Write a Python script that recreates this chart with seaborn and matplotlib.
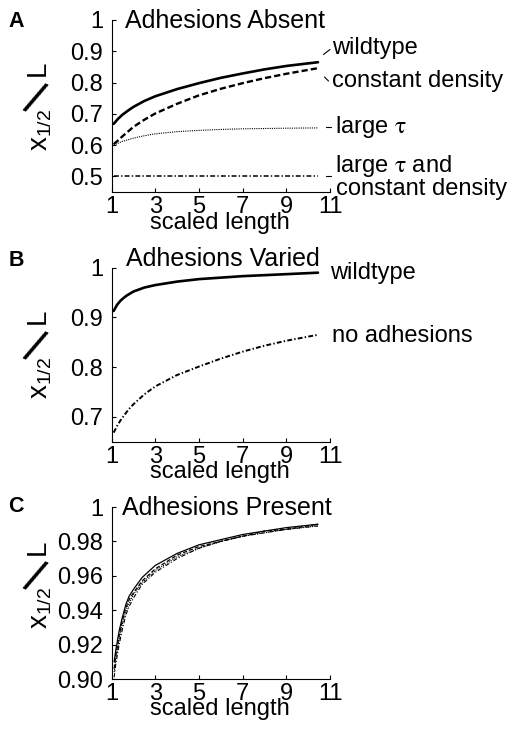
import matplotlib
matplotlib.use('Agg')
import matplotlib.pyplot as plt
import seaborn as sns
from matplotlib.lines import Line2D
from matplotlib.ticker import FixedLocator, FixedFormatter

# ---------------- data ----------------
x_ticks = [1, 3, 5, 7, 9, 11]
x_tick_labels = ['1', '3', '5', '7', '9', '11']

# Panel A: Adhesions Absent
x_a = [1.1, 1.3, 1.5, 1.75, 2, 2.5, 3, 4, 5, 6, 7, 8, 9, 10.45]
a_wildtype = [0.668, 0.684, 0.697, 0.710, 0.722, 0.741, 0.756, 0.779, 0.798, 0.815, 0.829, 0.842, 0.853, 0.865]
a_const_density = [0.603, 0.615, 0.628, 0.643, 0.658, 0.681, 0.701, 0.732, 0.759, 0.780, 0.798, 0.814, 0.828, 0.846]
a_large_tau = [0.600, 0.606, 0.612, 0.617, 0.622, 0.630, 0.636, 0.643, 0.647, 0.650, 0.652, 0.653, 0.654, 0.655]
a_large_tau_const = [0.500, 0.500, 0.500, 0.500, 0.500, 0.500, 0.500, 0.500, 0.500, 0.500, 0.500, 0.500, 0.500, 0.500]
a_yticks = [0.5, 0.6, 0.7, 0.8, 0.9, 1.0]
a_ytick_labels = ['0.5', '0.6', '0.7', '0.8', '0.9', '1']

# Panel B: Adhesions Varied
x_b = [1.1, 1.25, 1.4, 1.55, 1.7, 1.85, 2, 2.5, 3, 4, 5, 6, 7, 8, 9, 10.45]
b_wildtype = [0.913, 0.925, 0.933, 0.939, 0.944, 0.948, 0.952, 0.960, 0.965, 0.972, 0.977, 0.980, 0.983, 0.985, 0.987, 0.990]
b_no_adhesions = [0.668, 0.681, 0.692, 0.701, 0.710, 0.718, 0.725, 0.745, 0.761, 0.784, 0.801, 0.817, 0.831, 0.843, 0.853, 0.865]
b_yticks = [0.7, 0.8, 0.9, 1.0]
b_ytick_labels = ['0.7', '0.8', '0.9', '1']

# Panel C: Adhesions Present
x_c = [1.12, 1.2, 1.35, 1.5, 1.65, 1.8, 2, 2.4, 3, 4, 5, 6, 7, 8, 9, 10.45]
c_solid = [0.910, 0.917, 0.928, 0.936, 0.943, 0.948, 0.952, 0.959, 0.966, 0.973, 0.978, 0.981, 0.984, 0.986, 0.988, 0.990]
c_dashed = [0.906, 0.914, 0.925, 0.934, 0.941, 0.946, 0.950, 0.957, 0.964, 0.972, 0.977, 0.980, 0.983, 0.986, 0.987, 0.990]
c_dotted = [0.904, 0.912, 0.923, 0.932, 0.939, 0.944, 0.949, 0.956, 0.963, 0.971, 0.976, 0.980, 0.983, 0.985, 0.987, 0.989]
c_dashdot = [0.901, 0.909, 0.920, 0.929, 0.937, 0.942, 0.947, 0.955, 0.962, 0.970, 0.976, 0.980, 0.983, 0.985, 0.987, 0.989]
c_yticks = [0.90, 0.92, 0.94, 0.96, 0.98, 1.0]
c_ytick_labels = ['0.90', '0.92', '0.94', '0.96', '0.98', '1']

# ---------------- style ----------------
sns.set_theme(style='white')
plt.rcParams['font.family'] = ['Liberation Sans', 'DejaVu Sans']
plt.rcParams['mathtext.fontset'] = 'stix'
plt.rcParams['lines.scale_dashes'] = False

W, H = 519, 729
fig = plt.figure(figsize=(W / 100, H / 100), dpi=100)
fig.patch.set_facecolor('white')

FS = 17


def add_axes_px(left, right, top, bottom):
    return fig.add_axes([left / W, 1 - bottom / H, (right - left) / W, (bottom - top) / H])


def text_px(x, y, s, **kw):
    kw.setdefault('fontsize', FS)
    kw.setdefault('color', 'black')
    return fig.text(x / W, 1 - y / H, s, **kw)


def seg_px(x0, y0, x1, y1, lw=0.8):
    fig.add_artist(Line2D([x0 / W, x1 / W], [1 - y0 / H, 1 - y1 / H],
                          transform=fig.transFigure, color='black', lw=lw))


def style_axes(ax, ylim, yticks, ylabels, top, bottom, label_shift=0.0):
    ax.set_facecolor('white')
    ax.set_xlim(1, 11)
    ax.set_ylim(*ylim)
    ax.xaxis.set_major_locator(FixedLocator(x_ticks))
    ax.xaxis.set_major_formatter(FixedFormatter(x_tick_labels))
    ax.yaxis.set_major_locator(FixedLocator(yticks))
    ax.yaxis.set_major_formatter(FixedFormatter(ylabels))
    for s in ['top', 'right']:
        ax.spines[s].set_visible(False)
    for s in ['left', 'bottom']:
        ax.spines[s].set_linewidth(0.8)
        ax.spines[s].set_color('black')
    ax.tick_params(axis='both', direction='in', length=3, width=0.8, colors='black',
                   labelsize=FS, left=True, bottom=True)
    ax.tick_params(axis='x', pad=3)
    ax.tick_params(axis='y', pad=6)
    ax.set_xlabel('scaled length', fontsize=FS, color='black')
    ax.xaxis.set_label_coords(220 / W, 1 - (bottom + 36.5) / H, transform=fig.transFigure)
    ax.xaxis.label.set_va('baseline')
    ax.set_ylabel('')
    # composite y label  x_{1/2} / L
    cy = (top + bottom) / 2 + label_shift
    text_px(40.5, cy + 22, r'$\mathregular{x_{1/2}}$', fontsize=20, rotation=90,
            ha='center', va='center')
    text_px(33, cy - 6, '/', fontsize=34, rotation=-25,
            ha='center', va='center')
    text_px(37.5, cy - 39, 'L', fontsize=20, rotation=90, ha='center', va='center')


LEFT, RIGHT = 111.5, 330

# ---------------- Panel A ----------------
A_top, A_bot = 20, 192
axA = add_axes_px(LEFT, RIGHT, A_top, A_bot)
sns.lineplot(x=x_a, y=a_wildtype, ax=axA, color='black', linewidth=1.9, linestyle='-', errorbar=None)
sns.lineplot(x=x_a, y=a_const_density, ax=axA, color='black', linewidth=1.7,
             linestyle=(0, (4.5, 2.2)), errorbar=None)
sns.lineplot(x=x_a, y=a_large_tau, ax=axA, color='black', linewidth=0.8,
             linestyle=(0, (0.8, 0.8)), errorbar=None)
sns.lineplot(x=x_a, y=a_large_tau_const, ax=axA, color='black', linewidth=1.1,
             linestyle=(0, (3.5, 1.6, 1.0, 1.6)), errorbar=None)
style_axes(axA, (0.45, 1.0), a_yticks, a_ytick_labels, A_top, A_bot, 1.5)

text_px(225, 28, 'Adhesions Absent', fontsize=18, ha='center', va='baseline')
text_px(331.7, 54, 'wildtype', ha='left', va='baseline')
seg_px(323.5, 54.5, 330, 49.5)
text_px(331.7, 87, 'constant density', ha='left', va='baseline')
seg_px(324.5, 77, 328.5, 81)
text_px(335, 133.3, r'large $\mathrm{\tau}$', ha='left', va='baseline')
seg_px(326, 127.3, 330.5, 127.3)
text_px(335, 171.7, r'large $\mathrm{\tau}$ and', ha='left', va='baseline')
seg_px(326, 176, 330.5, 176)
text_px(336, 195.5, 'constant density', ha='left', va='baseline')
text_px(8.3, 27.3, 'A', fontsize=15.5, fontweight='bold', ha='left', va='baseline')

# ---------------- Panel B ----------------
B_top, B_bot = 267.7, 441.6
axB = add_axes_px(LEFT, RIGHT, B_top, B_bot)
sns.lineplot(x=x_b, y=b_wildtype, ax=axB, color='black', linewidth=1.9, linestyle='-', errorbar=None)
sns.lineplot(x=x_b, y=b_no_adhesions, ax=axB, color='black', linewidth=1.4,
             linestyle=(0, (3.5, 1.6, 1.0, 1.6)), errorbar=None)
style_axes(axB, (0.65, 1.0), b_yticks, b_ytick_labels, B_top, B_bot, 1.0)

text_px(222.5, 266.5, 'Adhesions Varied', fontsize=18, ha='center', va='baseline')
text_px(330, 279.3, 'wildtype', ha='left', va='baseline')
text_px(331.7, 341.7, 'no adhesions', ha='left', va='baseline')
text_px(8.3, 266.5, 'B', fontsize=15.5, fontweight='bold', ha='left', va='baseline')

# ---------------- Panel C ----------------
C_top, C_bot = 507, 679
axC = add_axes_px(LEFT, RIGHT, C_top, C_bot)
sns.lineplot(x=x_c, y=c_solid, ax=axC, color='black', linewidth=0.9, linestyle='-', errorbar=None)
sns.lineplot(x=x_c, y=c_dashed, ax=axC, color='black', linewidth=0.9,
             linestyle=(0, (3.0, 1.5)), errorbar=None)
sns.lineplot(x=x_c, y=c_dotted, ax=axC, color='black', linewidth=0.8,
             linestyle=(0, (0.8, 0.8)), errorbar=None)
sns.lineplot(x=x_c, y=c_dashdot, ax=axC, color='black', linewidth=0.8,
             linestyle=(0, (3.0, 1.4, 0.8, 1.4)), errorbar=None)
style_axes(axC, (0.90, 1.0), c_yticks, c_ytick_labels, C_top, C_bot, -7.0)

text_px(226.7, 515, 'Adhesions Present', fontsize=18, ha='center', va='baseline')
text_px(8.3, 511.5, 'C', fontsize=15.5, fontweight='bold', ha='left', va='baseline')

fig.savefig('out.png', dpi=100, facecolor='white')
